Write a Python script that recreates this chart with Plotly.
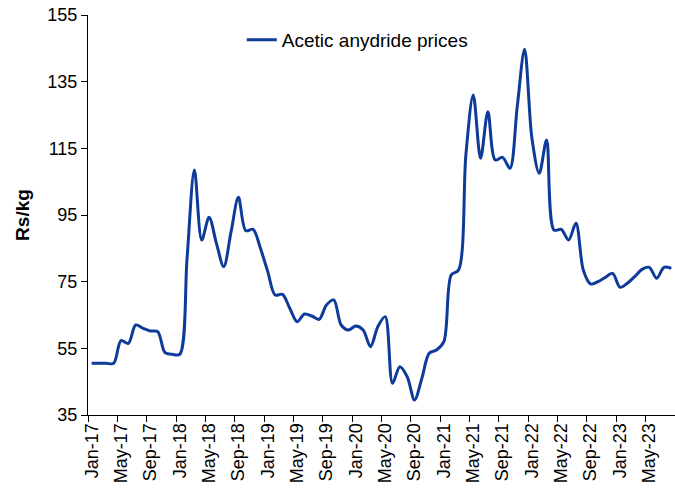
import pandas as pd
import plotly.graph_objects as go

# Monthly categories Jan-17 .. Aug-23
months = [d.strftime("%b-%y") for d in pd.date_range("2017-01-01", "2023-08-01", freq="MS")]

prices = [
    50.5, 50.5, 50.5, 50.5,
    57.3, 56.5, 62.0, 61.0, 60.2, 60.0, 53.7, 53.2,
    53.2, 82.0, 108.5, 87.5, 94.3, 86.5, 79.5, 90.0, 100.3, 90.3, 90.7, 85.0,
    78.0, 71.0, 71.2, 67.0, 63.0, 65.3, 64.7, 63.7, 68.0, 69.5, 62.0, 60.5,
    61.7, 60.5, 55.5, 61.5, 64.5, 44.5, 49.5, 46.5, 39.5, 46.0, 53.5, 54.5,
    57.0, 77.0, 78.5, 113.0, 131.0, 112.0, 126.0, 111.5, 112.3, 109.0, 127.5, 144.7,
    118.0, 107.5, 117.5, 90.5, 90.7, 87.5, 92.5, 78.5, 74.3, 75.0, 76.3, 77.5,
    73.3, 74.5, 76.5, 78.7, 79.3, 76.0, 79.3, 79.0,
]

series_name = "Acetic anydride prices"
y_title = "Rs/kg"
y_ticks = [35, 55, 75, 95, 115, 135, 155]

idx = list(range(len(months)))
tick_idx = idx[::4]
tick_text = months[::4]

FONT = "Liberation Sans, Arial, sans-serif"

fig = go.Figure()
fig.add_trace(go.Scatter(
    x=idx, y=prices, mode="lines", name=series_name,
    line=dict(color="#0D3B99", width=3, shape="spline", smoothing=0.9),
))

fig.update_layout(
    width=675, height=497,
    margin=dict(l=88, r=0, t=15, b=82),
    paper_bgcolor="white", plot_bgcolor="white",
    font=dict(family=FONT, size=18, color="black"),
    showlegend=True,
    legend=dict(
        x=0.262, y=0.9375, xanchor="left", yanchor="middle",
        bgcolor="rgba(0,0,0,0)", font=dict(size=19, family=FONT),
    ),
)

fig.update_xaxes(
    range=[-0.5, len(months) - 0.5],
    tickmode="array", tickvals=tick_idx, ticktext=tick_text,
    tickangle=-90, ticks="", showgrid=False, zeroline=False,
    showline=True, linecolor="black", linewidth=1,
    tickfont=dict(size=18),
    minor=dict(tickmode="linear", tick0=-0.5, dtick=4, ticks="outside",
               ticklen=6, tickcolor="black", tickwidth=1, showgrid=False),
    automargin=False,
)

fig.update_yaxes(
    range=[35, 155], tickmode="array", tickvals=y_ticks,
    ticks="outside", ticklen=6, tickcolor="black", tickwidth=1,
    showgrid=False, zeroline=False,
    showline=True, linecolor="black", linewidth=1,
    tickfont=dict(size=18),
    title=dict(text="<b>" + y_title + "</b>", font=dict(size=19), standoff=12),
    automargin=False,
)

fig.write_html(
    "out.html",
    config={"displayModeBar": False},
    post_script="document.body.style.margin='0';document.body.style.overflow='hidden';",
)
